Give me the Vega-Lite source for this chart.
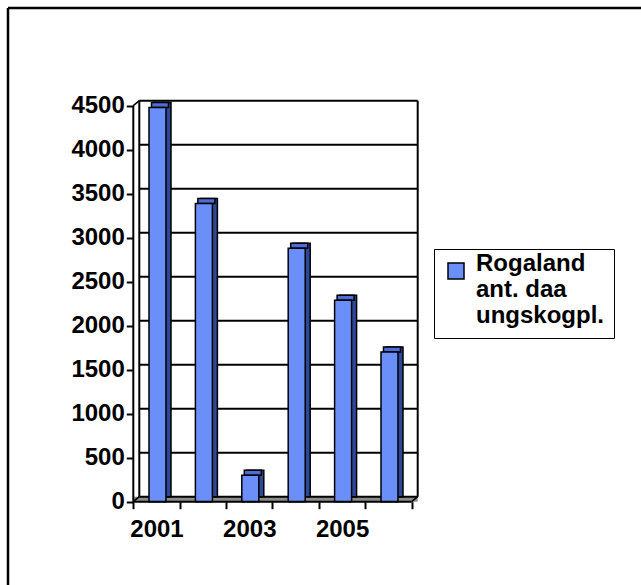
{
  "$schema": "https://vega.github.io/schema/vega-lite/v6.json",
  "width": 633,
  "height": 577,
  "autosize": {"type": "none"},
  "padding": {"left": 8, "top": 8, "right": 0, "bottom": 0},
  "background": "white",
  "title": {"text": "08.", "anchor": "start", "font": "Liberation Sans", "fontSize": 24, "fontWeight": "bold", "color": "black", "offset": 5, "dx": -3, "baseline": "alphabetic"},
  "config": {
    "view": {"stroke": null},
    "font": "Liberation Sans"
  },
  "datasets": {
    "bars": [
      {"year": 2001, "value": 4480},
      {"year": 2002, "value": 3390},
      {"year": 2003, "value": 300},
      {"year": 2004, "value": 2880},
      {"year": 2005, "value": 2290},
      {"year": 2006, "value": 1700}
    ],
    "grid": [
      {"v": 0}, {"v": 500}, {"v": 1000}, {"v": 1500}, {"v": 2000},
      {"v": 2500}, {"v": 3000}, {"v": 3500}, {"v": 4000}, {"v": 4500}
    ]
  },
  "layer": [
    {
      "data": {"values": [{}]},
      "mark": {"type": "rule", "color": "black", "strokeWidth": 2.5},
      "encoding": {
        "x": {
          "datum": 1997.7996, "type": "quantitative",
          "scale": {"type": "linear", "domain": [1997.7996, 2011.4418], "nice": false, "zero": false, "padding": 0},
          "axis": {
            "title": null, "values": [2000.5, 2001.5, 2002.5, 2003.5, 2004.5, 2005.5, 2006.5],
            "labelExpr": "datum.value == 2000.5 ? '2001' : (datum.value == 2002.5 ? '2003' : (datum.value == 2004.5 ? '2005' : ''))",
            "labelOffset": 23.2, "labelFlush": false, "labelOverlap": false, "labelBound": false,
            "domain": false, "grid": false, "offset": -83.3,
            "tickSize": 7, "tickWidth": 2, "tickColor": "black",
            "labelFont": "Liberation Sans", "labelFontSize": 24, "labelFontWeight": "bold", "labelColor": "black", "labelPadding": 9
          }
        },
        "x2": {"datum": 2011.4418},
        "y": {
          "datum": 5610.2, "type": "quantitative",
          "scale": {"type": "linear", "domain": [-946.6, 5610.2], "nice": false, "zero": false, "padding": 0},
          "axis": {
            "title": null, "values": [0, 500, 1000, 1500, 2000, 2500, 3000, 3500, 4000, 4500], "format": "d",
            "labelFlush": false, "labelOverlap": false, "labelBound": false,
            "domain": false, "grid": false, "offset": -125.3,
            "tickSize": 7, "tickWidth": 2, "tickColor": "black",
            "labelFont": "Liberation Sans", "labelFontSize": 24, "labelFontWeight": "bold", "labelColor": "black", "labelPadding": 2
          }
        }
      }
    },
    {
      "data": {"values": [{}]},
      "mark": {"type": "rule", "color": "black", "strokeWidth": 2.5},
      "encoding": {
        "x": {"datum": 1997.7996, "type": "quantitative"},
        "y": {"datum": -946.6, "type": "quantitative"},
        "y2": {"datum": 5610.2}
      }
    },
    {
      "data": {"values": [{}]},
      "mark": {"type": "rect", "fill": "#8c8c8c", "x2Offset": 6, "y2Offset": -5},
      "encoding": {
        "x": {"datum": 2000.5, "type": "quantitative"},
        "x2": {"datum": 2006.5},
        "y": {"datum": 0, "type": "quantitative"},
        "y2": {"datum": 0}
      }
    },
    {
      "data": {"name": "grid"},
      "mark": {"type": "rule", "color": "black", "strokeWidth": 2, "xOffset": 6, "x2Offset": 6, "yOffset": -5},
      "encoding": {
        "x": {"datum": 2000.5, "type": "quantitative"},
        "x2": {"datum": 2006.5},
        "y": {"field": "v", "type": "quantitative"}
      }
    },
    {
      "data": {"values": [{}]},
      "mark": {"type": "rule", "color": "black", "strokeWidth": 2, "xOffset": 6, "yOffset": -5, "y2Offset": -5},
      "encoding": {
        "x": {"datum": 2000.5, "type": "quantitative"},
        "y": {"datum": 0, "type": "quantitative"},
        "y2": {"datum": 4500}
      }
    },
    {
      "data": {"values": [{}]},
      "mark": {"type": "rule", "color": "black", "strokeWidth": 2, "xOffset": 6, "yOffset": -5, "y2Offset": -5},
      "encoding": {
        "x": {"datum": 2006.5, "type": "quantitative"},
        "y": {"datum": 0, "type": "quantitative"},
        "y2": {"datum": 4500}
      }
    },
    {
      "data": {"values": [{}]},
      "mark": {"type": "rule", "color": "black", "strokeWidth": 1.5, "x2Offset": 6, "y2Offset": -5},
      "encoding": {
        "x": {"datum": 2000.5, "type": "quantitative"},
        "x2": {"datum": 2000.5},
        "y": {"datum": 4500, "type": "quantitative"},
        "y2": {"datum": 4500}
      }
    },
    {
      "data": {"values": [{}]},
      "mark": {"type": "rule", "color": "black", "strokeWidth": 1.5, "x2Offset": 6, "y2Offset": -5},
      "encoding": {
        "x": {"datum": 2000.5, "type": "quantitative"},
        "x2": {"datum": 2000.5},
        "y": {"datum": 0, "type": "quantitative"},
        "y2": {"datum": 0}
      }
    },
    {
      "data": {"values": [{}]},
      "mark": {"type": "rule", "color": "black", "strokeWidth": 1.5, "x2Offset": 6, "y2Offset": -5},
      "encoding": {
        "x": {"datum": 2006.5, "type": "quantitative"},
        "x2": {"datum": 2006.5},
        "y": {"datum": 0, "type": "quantitative"},
        "y2": {"datum": 0}
      }
    },
    {
      "data": {"name": "bars"},
      "mark": {"type": "bar", "width": 17, "xOffset": 6, "yOffset": -5, "y2Offset": -5, "fill": "#2E4895", "stroke": "black", "strokeWidth": 1.5},
      "encoding": {
        "x": {"field": "year", "type": "quantitative"},
        "y": {"field": "value", "type": "quantitative"},
        "y2": {"datum": 0}
      }
    },
    {
      "data": {"name": "bars"},
      "mark": {"type": "bar", "width": 17, "xOffset": 3.5, "yOffset": -5, "y2Offset": 0, "fill": "#4C6ED9", "stroke": "black", "strokeWidth": 1.5},
      "encoding": {
        "x": {"field": "year", "type": "quantitative"},
        "y": {"field": "value", "type": "quantitative"},
        "y2": {"field": "value"}
      }
    },
    {
      "data": {"name": "bars"},
      "mark": {"type": "bar", "width": 17, "xOffset": 1, "stroke": "black", "strokeWidth": 1.5},
      "encoding": {
        "x": {"field": "year", "type": "quantitative"},
        "y": {"field": "value", "type": "quantitative"},
        "y2": {"datum": 0},
        "color": {
          "datum": "Rogaland|ant. daa|ungskogpl.",
          "type": "nominal",
          "scale": {"range": ["#6A8FF8"]},
          "legend": {
            "title": null, "orient": "none", "legendX": 426, "legendY": 241,
            "padding": 10, "strokeColor": "black",
            "symbolType": "square", "symbolSize": 256, "symbolStrokeColor": "black", "symbolStrokeWidth": 1.5,
            "labelFont": "Liberation Sans", "labelFontSize": 24, "labelFontWeight": "bold", "labelColor": "black",
            "labelLimit": 400, "labelOffset": 8, "labelBaseline": "alphabetic",
            "labelExpr": "split(datum.label, '|')"
          }
        }
      }
    },
    {
      "data": {"values": [{}]},
      "mark": {"type": "rule", "color": "black", "strokeWidth": 2},
      "encoding": {
        "x": {"datum": 2000.5, "type": "quantitative"},
        "y": {"datum": 0, "type": "quantitative"},
        "y2": {"datum": 4500}
      }
    },
    {
      "data": {"values": [{}]},
      "mark": {"type": "rule", "color": "black", "strokeWidth": 2},
      "encoding": {
        "x": {"datum": 2000.5, "type": "quantitative"},
        "x2": {"datum": 2006.5},
        "y": {"datum": 0, "type": "quantitative"}
      }
    }
  ]
}
